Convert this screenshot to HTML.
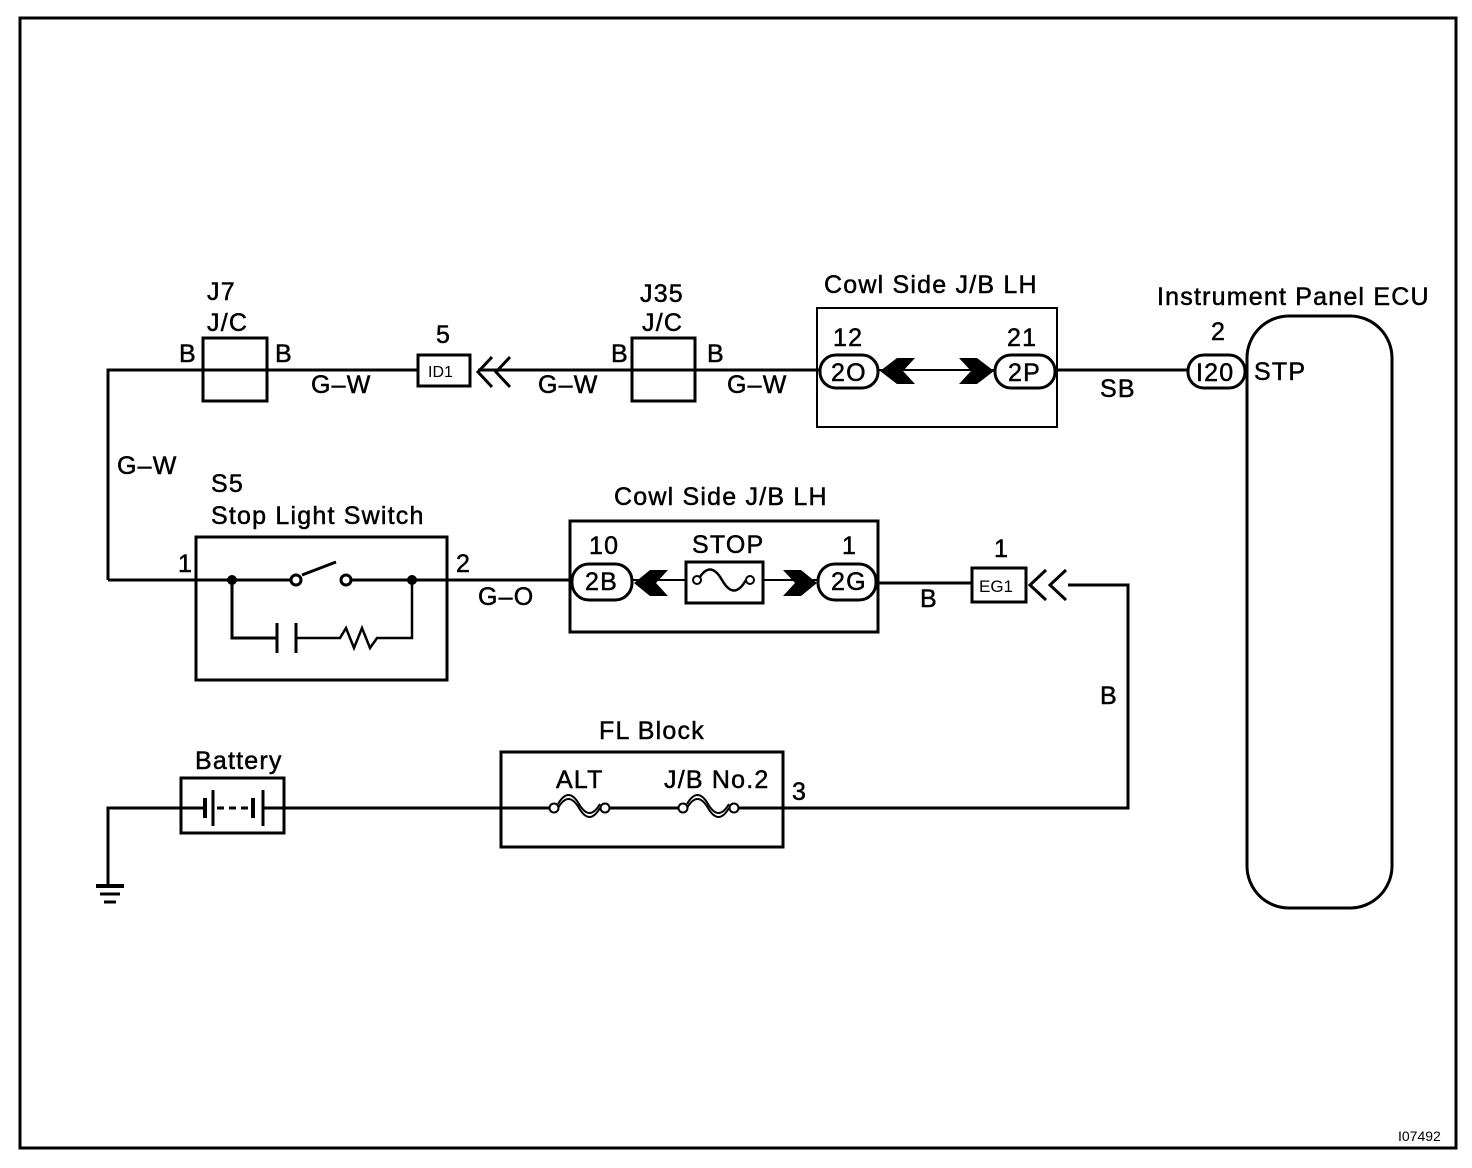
<!DOCTYPE html>
<html><head><style>html,body{margin:0;padding:0;background:#fff}svg{display:block}text{font-family:"Liberation Sans",sans-serif;fill:#000}</style></head><body>
<svg width="1472" height="1168" viewBox="0 0 1472 1168" xmlns="http://www.w3.org/2000/svg">
<g fill="none" stroke="#000" stroke-width="3">
<rect x="20" y="18" width="1436" height="1130"/>
<polyline points="108,580 108,370 418,370"/>
<line x1="478" y1="370" x2="820" y2="370"/>
<line x1="878" y1="370" x2="995" y2="370" stroke-width="2"/>
<line x1="1055" y1="370" x2="1188" y2="370"/>
<rect x="203" y="338" width="64" height="63"/>
<rect x="418" y="355" width="52" height="31"/>
<polyline points="492,357 478,372 492,387"/>
<polyline points="510,357 496,372 510,387"/>
<rect x="632" y="338" width="63" height="63"/>
<rect x="817" y="308" width="240" height="119" stroke-width="2"/>
<rect x="820" y="355" width="58" height="33" rx="16"/>
<rect x="995" y="355" width="60" height="33" rx="16"/>
<rect x="1188" y="355" width="57" height="33" rx="16"/>
<rect x="1247" y="316" width="145" height="592" rx="42"/>
<line x1="108" y1="580" x2="232" y2="580"/>
<line x1="412" y1="580" x2="572" y2="580"/>
<line x1="632" y1="580" x2="686" y2="580" stroke-width="2"/>
<line x1="763" y1="580" x2="818" y2="580" stroke-width="2"/>
<line x1="876" y1="583" x2="972" y2="583"/>
<polyline points="1068,585 1128,585 1128,808 783,808"/>
<rect x="196" y="537" width="251" height="143"/>
<line x1="232" y1="580" x2="290" y2="580"/>
<line x1="302" y1="575" x2="336" y2="562"/>
<line x1="352" y1="580" x2="412" y2="580"/>
<circle cx="296" cy="580" r="5" fill="#fff"/>
<circle cx="346" cy="580" r="5" fill="#fff"/>
<polyline points="232,580 232,638 276,638"/>
<line x1="277" y1="623" x2="277" y2="653"/>
<line x1="296" y1="623" x2="296" y2="653"/>
<polyline points="296,638 340,638 346,628 354,648 362,628 370,648 377,638 412,638 412,580" stroke-width="2.5"/>
<rect x="570" y="521" width="308" height="111"/>
<rect x="572" y="564" width="60" height="36" rx="17"/>
<rect x="686" y="562" width="77" height="41"/>
<path d="M698,580 c8,-14 16,-14 24,0 s16,14 24,0" stroke-width="2.5"/>
<circle cx="697" cy="580" r="4" fill="#fff" stroke-width="2"/>
<circle cx="750" cy="580" r="4" fill="#fff" stroke-width="2"/>
<rect x="818" y="564" width="58" height="36" rx="17"/>
<rect x="972" y="568" width="54" height="34"/>
<polyline points="1046,570 1030,585 1046,600"/>
<polyline points="1066,570 1050,585 1066,600"/>
<polyline points="108,885 108,808 181,808"/>
<line x1="96" y1="886" x2="124" y2="886" stroke-width="4"/>
<line x1="100" y1="894" x2="120" y2="894"/>
<line x1="104" y1="902" x2="116" y2="902"/>
<rect x="181" y="778" width="103" height="55"/>
<line x1="181" y1="808" x2="205" y2="808"/>
<line x1="205" y1="798" x2="205" y2="818" stroke-width="4"/>
<line x1="213" y1="790" x2="213" y2="826"/>
<line x1="217" y1="808" x2="252" y2="808" stroke-dasharray="7,5"/>
<line x1="253" y1="798" x2="253" y2="818" stroke-width="4"/>
<line x1="263" y1="790" x2="263" y2="826"/>
<line x1="263" y1="808" x2="501" y2="808"/>
<rect x="501" y="752" width="282" height="95"/>
<line x1="501" y1="808" x2="551" y2="808"/>
<line x1="609" y1="808" x2="680" y2="808"/>
<line x1="738" y1="808" x2="783" y2="808"/>
<path d="M558,808 c7,-12 14,-12 21,0 s14,12 21,0 M558,804 c7,-12 14,-12 21,0 s14,12 21,0" stroke-width="2"/>
<path d="M687,808 c7,-12 14,-12 21,0 s14,12 21,0 M687,804 c7,-12 14,-12 21,0 s14,12 21,0" stroke-width="2"/>
<circle cx="554" cy="808" r="4.5" fill="#fff" stroke-width="2"/>
<circle cx="605" cy="808" r="4.5" fill="#fff" stroke-width="2"/>
<circle cx="683" cy="808" r="4.5" fill="#fff" stroke-width="2"/>
<circle cx="734" cy="808" r="4.5" fill="#fff" stroke-width="2"/>
</g>
<g fill="#000">
<circle cx="232" cy="580" r="5"/><circle cx="412" cy="580" r="5"/>
<polygon points="880,371 897,358 915,358 903,371 915,384 897,384"/>
<polygon points="994,371 977,358 959,358 971,371 959,384 977,384"/>
<polygon points="634,583 650,570 668,570 656,583 668,596 650,596"/>
<polygon points="817,583 801,570 783,570 795,583 783,596 801,596"/>
</g>
<g font-size="25" stroke="#000" stroke-width="0.5" letter-spacing="1.2">
<text x="207" y="300">J7</text><text x="207" y="331">J/C</text>
<text x="179" y="362">B</text><text x="275" y="362">B</text>
<text x="311" y="393">G–W</text>
<text x="436" y="343">5</text>
<text x="538" y="393">G–W</text>
<text x="640" y="302">J35</text><text x="642" y="331">J/C</text>
<text x="611" y="362">B</text><text x="707" y="362">B</text>
<text x="727" y="393">G–W</text>
<text x="824" y="293">Cowl Side J/B LH</text>
<text x="833" y="346">12</text><text x="1007" y="346">21</text>
<text x="831" y="381">2O</text><text x="1008" y="381">2P</text>
<text x="1100" y="397">SB</text>
<text x="1157" y="305">Instrument Panel ECU</text>
<text x="1211" y="340">2</text>
<text x="1196" y="381">I20</text>
<text x="1254" y="380">STP</text>
<text x="117" y="474">G–W</text>
<text x="211" y="492">S5</text>
<text x="211" y="524">Stop Light Switch</text>
<text x="178" y="572">1</text><text x="456" y="572">2</text>
<text x="478" y="605">G–O</text>
<text x="614" y="505">Cowl Side J/B LH</text>
<text x="589" y="554">10</text><text x="692" y="553">STOP</text><text x="842" y="554">1</text>
<text x="585" y="590">2B</text><text x="831" y="590">2G</text>
<text x="920" y="607">B</text>
<text x="994" y="557">1</text>
<text x="1100" y="704">B</text>
<text x="599" y="739">FL Block</text>
<text x="195" y="769">Battery</text>
<text x="556" y="788">ALT</text>
<text x="664" y="788">J/B No.2</text>
<text x="792" y="800">3</text>
</g>
<text x="428" y="377" font-size="16">ID1</text>
<text x="979" y="592" font-size="17">EG1</text>
<text x="1398" y="1141" font-size="14">I07492</text>
</svg>
</body></html>
